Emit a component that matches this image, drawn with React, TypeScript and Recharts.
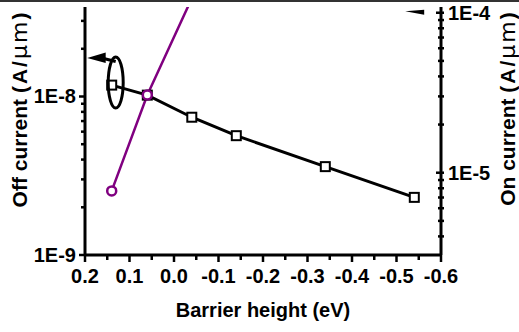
import React from 'react';
import { LineChart, Line, XAxis, YAxis, ReferenceDot } from 'recharts';

// barrier height (eV) of each simulated device
const barrierHeight = [0.14, 0.06, -0.04, -0.14, -0.34, -0.54];
// off current, left axis (A/um)
const offCurrent = [1.18e-8, 1.02e-8, 7.4e-9, 5.66e-9, 3.61e-9, 2.31e-9];
// on current, right axis (A/um) - runs off the top after the third point
const onCurrent = [7.7e-6, 3.06e-5, 1.23e-4, null, null, null];

const xTicks = [0.2, 0.15, 0.1, 0.05, 0, -0.05, -0.1, -0.15, -0.2, -0.25, -0.3, -0.35, -0.4, -0.45, -0.5, -0.55, -0.6];
const xMajor = [0.2, 0.1, 0, -0.1, -0.2, -0.3, -0.4, -0.5, -0.6];
const xLabels = ['0.2', '0.1', '0.0', '-0.1', '-0.2', '-0.3', '-0.4', '-0.5', '-0.6'];

const leftTicks = [1e-9, 2e-9, 3e-9, 4e-9, 5e-9, 6e-9, 7e-9, 8e-9, 9e-9, 1e-8, 2e-8, 3e-8];
const leftMajor = [1e-9, 1e-8];
const leftLabels = ['1E-9', '1E-8'];

const rightTicks = [4e-6, 5e-6, 6e-6, 7e-6, 8e-6, 9e-6, 1e-5, 2e-5, 3e-5, 4e-5, 5e-5, 6e-5, 7e-5, 8e-5, 9e-5, 1e-4];
const rightMajor = [1e-5, 1e-4];
const rightLabels = ['1E-5', '1E-4'];

const data = barrierHeight.map((x, i) => ({ x, off: offCurrent[i], on: onCurrent[i] }));

const FONT = '"Liberation Sans", Arial, sans-serif';
const PURPLE = '#800080';

const findMajor = (list: number[], v: number) =>
  list.findIndex((m) => Math.abs(m - v) <= Math.abs(m) * 1e-6 + 1e-12);

function XTick(props: any) {
  const { x, y, payload } = props;
  const idx = findMajor(xMajor, payload.value);
  return (
    <g>
      <line x1={x} x2={x} y1={y} y2={y + (idx >= 0 ? 7 : 5)} stroke="#000" strokeWidth={2.5} />
      {idx >= 0 && (
        <text x={x} y={y + 28} textAnchor="middle" fontFamily={FONT} fontWeight="bold" fontSize={20} fill="#000">
          {xLabels[idx]}
        </text>
      )}
    </g>
  );
}

function LeftTick(props: any) {
  const { x, y, payload } = props;
  const idx = findMajor(leftMajor, payload.value);
  return (
    <g>
      <line x1={x} x2={x - (idx >= 0 ? 6 : 4)} y1={y} y2={y} stroke="#000" strokeWidth={2.5} />
      {idx >= 0 && (
        <text x={x - 9} y={y + 7} textAnchor="end" fontFamily={FONT} fontWeight="bold" fontSize={20} fill="#000">
          {leftLabels[idx]}
        </text>
      )}
    </g>
  );
}

function RightTick(props: any) {
  const { x, y, payload } = props;
  const idx = findMajor(rightMajor, payload.value);
  return (
    <g>
      <line x1={x - (idx >= 0 ? 5 : 3)} x2={x + 3} y1={y} y2={y} stroke="#000" strokeWidth={2.5} />
      {idx >= 0 && (
        <text x={x + 7} y={y + 7} textAnchor="start" fontFamily={FONT} fontWeight="bold" fontSize={20} fill="#000">
          {rightLabels[idx]}
        </text>
      )}
    </g>
  );
}

function SideTitle({ x, y, main }: { x: number; y: number; main: string }) {
  return (
    <text
      x={x}
      y={y}
      transform={`rotate(-90 ${x} ${y})`}
      textAnchor="middle"
      fontFamily={FONT}
      fontWeight="bold"
      fontSize={21}
      fill="#000"
    >
      {main}
      <tspan letterSpacing={2}>
        (A/
        <tspan fontFamily='"DejaVu Sans", sans-serif' fontWeight="normal" fontSize={22}>
          μm
        </tspan>
        )
      </tspan>
    </text>
  );
}

function SquareDot(props: any) {
  const { cx, cy } = props;
  if (cx == null || cy == null) return null;
  return <rect x={cx - 4.5} y={cy - 4.5} width={9} height={9} fill="#fff" stroke="#000" strokeWidth={2} />;
}

// ellipse around the off-current curve with an arrow to the left axis
function OffMarker(props: any) {
  const { cx, cy } = props;
  return (
    <g>
      <ellipse cx={cx} cy={cy} rx={7.5} ry={25.5} fill="none" stroke="#000" strokeWidth={3} />
      <line x1={cx - 14} y1={cy - 24.5} x2={cx} y2={cy - 21} stroke="#000" strokeWidth={3} />
      <polygon
        points={`${cx - 28.5},${cy - 24.5} ${cx - 10},${cy - 30} ${cx - 10},${cy - 19.5}`}
        fill="#000"
      />
    </g>
  );
}

// clipped tip of the arrow pointing at the right axis
function OnMarker(props: any) {
  const { cx, cy } = props;
  return (
    <polygon points={`${cx - 18},${cy - 1.5} ${cx + 1},${cy - 3} ${cx + 1},${cy + 2}`} fill="#000" />
  );
}

export default function App() {
  return (
    <div style={{ position: 'absolute', left: 0, top: 0, width: 519, height: 332, background: '#fff' }}>
      <div style={{ position: 'absolute', left: 0, top: 0, width: 519, height: 2, background: '#333' }} />
      <LineChart width={519} height={332} data={data} margin={{ top: 7, right: 0, bottom: 0, left: 0 }}>
        <XAxis
          type="number"
          dataKey="x"
          domain={[-0.6, 0.2]}
          reversed
          ticks={xTicks}
          interval={0}
          height={77}
          tickSize={0}
          tickMargin={0}
          tickLine={false}
          axisLine={{ stroke: '#000', strokeWidth: 3 }}
          tick={XTick}
          label={{
            content: () => (
              <text x={263} y={317} textAnchor="middle" fontFamily={FONT} fontWeight="bold" fontSize={20} fill="#000">
                Barrier height (eV)
              </text>
            ),
          }}
        />
        <YAxis
          yAxisId="left"
          scale="log"
          domain={[1e-9, 3.67e-8]}
          allowDataOverflow
          ticks={leftTicks}
          interval={0}
          width={85}
          tickSize={0}
          tickMargin={0}
          tickLine={false}
          axisLine={{ stroke: '#000', strokeWidth: 3 }}
          tick={LeftTick}
          label={{ content: () => <SideTitle x={27} y={109} main="Off current " /> }}
        />
        <YAxis
          yAxisId="right"
          orientation="right"
          scale="log"
          domain={[3.06e-6, 1.086e-4]}
          allowDataOverflow
          ticks={rightTicks}
          interval={0}
          width={78}
          tickSize={0}
          tickMargin={0}
          tickLine={false}
          axisLine={{ stroke: '#000', strokeWidth: 3 }}
          tick={RightTick}
          label={{ content: () => <SideTitle x={515} y={108} main="On current " /> }}
        />
        <Line
          yAxisId="left"
          dataKey="off"
          stroke="#000"
          strokeWidth={3}
          dot={SquareDot}
          activeDot={false}
          isAnimationActive={false}
        />
        <Line
          yAxisId="right"
          dataKey="on"
          stroke={PURPLE}
          strokeWidth={2.5}
          dot={{ r: 4.5, fill: '#fff', stroke: PURPLE, strokeWidth: 2.5 }}
          activeDot={false}
          isAnimationActive={false}
        />
        <ReferenceDot yAxisId="left" x={0.131} y={1.225e-8} r={0} shape={OffMarker} ifOverflow="visible" />
        <ReferenceDot yAxisId="right" x={-0.56} y={1.0e-4} r={0} shape={OnMarker} ifOverflow="visible" />
      </LineChart>
    </div>
  );
}
